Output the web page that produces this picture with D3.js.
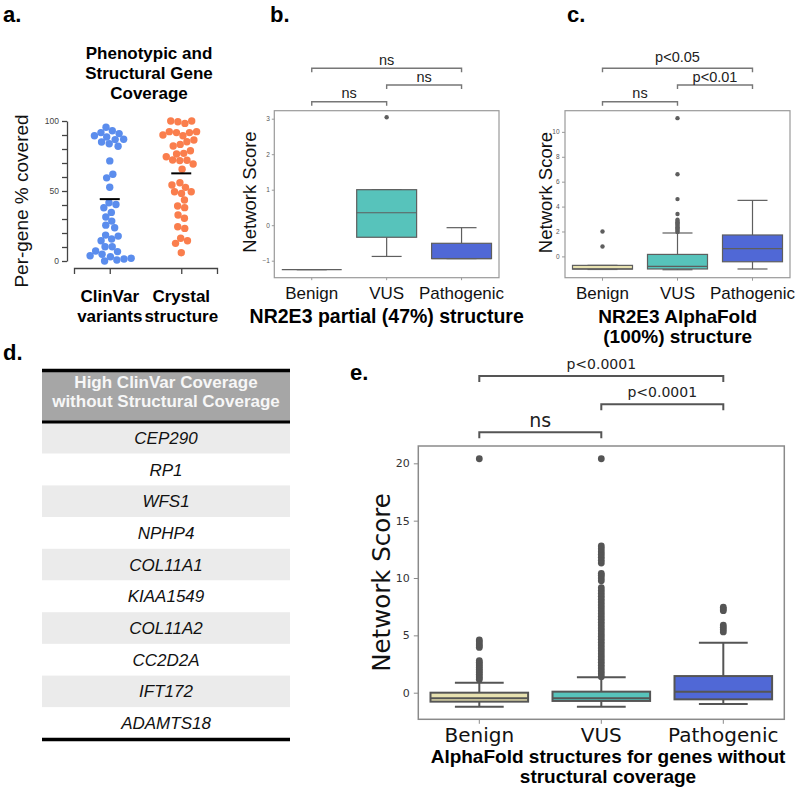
<!DOCTYPE html>
<html><head><meta charset="utf-8">
<script src="https://cdn.jsdelivr.net/npm/d3@7"></script>
<style>body{margin:0;background:#fff}svg{display:block}</style>
</head><body>
<svg id="chart" width="800" height="791"></svg>
<script>
// ---------------- DATA ----------------
const coverageCategories = ["ClinVar variants", "Crystal structure"];
const clinvarCoverage = [95.5, 93, 91.7, 91, 89.5, 88.6, 87, 86.7, 85, 83.8, 82, 71.5, 62, 59.4, 52.7,
  41.6, 40.4, 38, 34.7, 31.4, 28.5, 25.6, 23.8, 18.5, 17.8, 15.7, 14.5, 10.2, 10.2, 7.1, 6.7, 4.8, 3.8, 3, 2, 1.4, 0.7, 0];
const crystalCoverage = [100, 99.5, 100, 98.3, 92.4, 92.4, 91.7, 91.7, 90, 89.5, 86.4, 85.2, 83.3, 82.1, 78.8,
  76.9, 76.4, 74.5, 72.1, 71.7, 72, 69.3, 65.5, 55.9, 54.3, 52.6, 49.5, 49.5, 48.3, 43.6, 39.3, 38.1, 32.9,
  30.5, 24.5, 23.3, 16.2, 14.5, 12.6, 5.9];
const coverageMeans = [44.2, 62.6];
const coverageTickLabels = [0, 50, 100];

const classCategories = ["Benign", "VUS", "Pathogenic"];
const bracketPairs = [[0, 1], [1, 2], [0, 2]];

// panel b: NR2E3 partial structure
const bQ1 = [-1.25, -0.34, -0.94];
const bMedian = [-1.25, 0.35, -0.94];
const bQ3 = [-1.25, 1.0, -0.51];
const bWhiskerLow = [-1.25, -0.88, -0.94];
const bWhiskerHigh = [-1.25, 1.0, -0.07];
const bOutliers = [[], [3.04], []];
const bTicks = [-1, 0, 1, 2, 3];
const bSignif = ["ns", "ns", "ns"];

// panel c: NR2E3 AlphaFold structure
const cQ1 = [-1.02, -1.01, -0.43];
const cMedian = [-1.0, -0.8, 0.62];
const cQ3 = [-0.72, 0.16, 1.72];
const cWhiskerLow = [-1.05, -1.07, -1.01];
const cWhiskerHigh = [-0.72, 1.88, 4.5];
const cOutliers = [[0.8, 2.0],
  [1.95, 2.05, 2.15, 2.25, 2.35, 2.45, 2.55, 2.65, 2.75, 2.85, 2.95, 3.4, 4.6, 6.6, 11.1], []];
const cTicks = [0, 2, 4, 6, 8, 10];
const cSignif = ["ns", "p<0.01", "p<0.05"];

// panel d: table
const tableHeader = ["High ClinVar Coverage", "without Structural Coverage"];
const tableGenes = ["CEP290", "RP1", "WFS1", "NPHP4", "COL11A1", "KIAA1549", "COL11A2", "CC2D2A", "IFT172", "ADAMTS18"];

// panel e: AlphaFold structures for genes without structural coverage
const eQ1 = [-0.78, -0.72, -0.58];
const eMedian = [-0.49, -0.49, 0.09];
const eQ3 = [0.0, 0.09, 1.45];
const eWhiskerLow = [-1.22, -1.22, -0.99];
const eWhiskerHigh = [0.87, 1.34, 4.36];
const eOutliers = [
  [1.15, 1.3, 1.45, 1.6, 1.75, 1.9, 2.05, 2.2, 2.35, 2.5, 2.65, 2.8, 3.95, 4.1, 4.25, 4.45, 4.6, 20.4],
  [1.4, 1.65, 1.9, 2.15, 2.4, 2.65, 2.9, 3.15, 3.4, 3.65, 3.9, 4.15, 4.4, 4.65, 4.9, 5.15, 5.4, 5.65, 5.9,
   6.15, 6.4, 6.65, 6.9, 7.15, 7.4, 7.65, 7.9, 8.15, 8.4, 8.65, 8.9, 9.15, 9.75, 10.0, 10.25, 10.4,
   11.3, 11.55, 11.8, 12.05, 12.3, 12.55, 12.8, 20.4],
  [5.3, 5.5, 5.7, 5.9, 7.15, 7.3, 7.45]];
const eTicks = [0, 5, 10, 15, 20];
const eSignif = ["ns", "p<0.0001", "p<0.0001"];

// ---------------- DRAWING ----------------
const svg = d3.select("#chart");
const SANS = "'Liberation Sans', Arial, Helvetica, sans-serif";
const DEJAVU = "'DejaVu Sans', Verdana, sans-serif";
const boxColors = ["#e8e2b0", "#57c3bb", "#5068d6"];

function txt(s, x, y, o = {}) {
  return svg.append("text").attr("x", x).attr("y", y).text(s)
    .attr("font-family", o.font || SANS).attr("font-size", o.size || 14)
    .attr("font-weight", o.weight || "normal").attr("font-style", o.style || "normal")
    .attr("text-anchor", o.anchor || "middle").attr("fill", o.fill || "#111");
}
function vtxt(s, x, y, o = {}) {
  return txt(s, 0, 0, o).attr("transform", `translate(${x},${y}) rotate(-90)`);
}

// panel letters
[["a.", 3, 21.5], ["b.", 270, 21.5], ["c.", 567, 21.5], ["d.", 3, 360], ["e.", 350, 380]].forEach(([s, x, y]) =>
  txt(s, x, y, {size: 22, weight: "bold", anchor: "start", fill: "#000"}));

// ---- Panel a ----
{
  const y = d3.scaleLinear().domain([0, 100]).range([261, 121]);
  const x = d3.scalePoint().domain(coverageCategories).range([74, 217]).padding(0.5);
  ["Phenotypic and", "Structural Gene", "Coverage"].forEach((s, i) =>
    txt(s, 149, 59 + i * 20, {size: 17, weight: "bold", fill: "#000"}));
  const ya = svg.append("g").attr("transform", "translate(67,0)")
    .call(d3.axisLeft(y).tickValues(d3.range(0, 101, 10)).tickSize(5).tickPadding(3).tickSizeOuter(0)
      .tickFormat(d => coverageTickLabels.includes(d) ? d : ""));
  ya.selectAll("path,line").attr("stroke", "#444").attr("stroke-width", 1.3);
  ya.selectAll("text").attr("font-family", SANS).attr("font-size", 8.5).attr("fill", "#444");
  const xa = svg.append("g").attr("transform", "translate(0,268)")
    .call(d3.axisBottom(x).tickSize(6).tickSizeOuter(6).tickFormat(""));
  xa.selectAll("path,line").attr("stroke", "#444").attr("stroke-width", 1.3);
  coverageCategories.forEach(c => {
    const [l1, l2] = c.split(" ");
    txt(l1, x(c), 301.5, {size: 17, weight: "bold", fill: "#000"});
    txt(l2, x(c), 321.5, {size: 17, weight: "bold", fill: "#000"});
  });
  vtxt("Per-gene % covered", 28, 201, {size: 19, fill: "#111"});

  const series = [clinvarCoverage, crystalCoverage];
  const colors = ["#5b8ded", "#fa7e4d"];
  series.forEach((vals, si) => {
    const cx = x(coverageCategories[si]);
    const nodes = vals.map(v => ({v, fy: y(v), x: cx}));
    const sim = d3.forceSimulation(nodes)
      .force("x", d3.forceX(cx).strength(0.03))
      .force("c", d3.forceCollide(3.6))
      .stop();
    for (let i = 0; i < 300; i++) sim.tick();
    svg.append("g").selectAll("circle").data(nodes).join("circle")
      .attr("cx", d => d.x).attr("cy", d => d.fy).attr("r", 3.7).attr("fill", colors[si]);
    svg.append("line").attr("x1", cx - 10).attr("x2", cx + 10)
      .attr("y1", y(coverageMeans[si])).attr("y2", y(coverageMeans[si]))
      .attr("stroke", "#000").attr("stroke-width", 2);
  });
}

// ---- Box panels ----
function boxPanel(p) {
  const g = svg.append("g");
  const x = d3.scaleBand().domain(classCategories).range([p.left, p.right]).paddingInner(0.2).paddingOuter(0.1);
  const y = d3.scaleLinear().domain(p.domain).range([p.bottom, p.top]);
  const bw = x.bandwidth();
  const cx = c => x(c) + bw / 2;

  const ya = g.append("g").attr("transform", `translate(${p.left},0)`)
    .call(d3.axisLeft(y).tickValues(p.ticks).tickFormat(d3.format("d"))
      .tickSize(p.tickLen).tickPadding(p.yPad).tickSizeOuter(0));
  ya.select(".domain").remove();
  ya.selectAll("line").attr("stroke", p.frame);
  ya.selectAll("text").attr("font-family", p.tickFont).attr("font-size", p.yTickSize).attr("fill", p.tickFill);

  const xa = g.append("g").attr("transform", `translate(0,${p.bottom})`)
    .call(d3.axisBottom(x).tickSize(p.tickLen).tickPadding(p.xPad).tickSizeOuter(0));
  xa.select(".domain").remove();
  xa.selectAll("line").attr("stroke", p.frame);
  xa.selectAll("text").attr("font-family", p.tickFont).attr("font-size", p.xTickSize).attr("fill", "#111");

  const rows = classCategories.map((c, i) => ({c, i, q1: p.q1[i], med: p.med[i], q3: p.q3[i],
    lo: p.lo[i], hi: p.hi[i], out: p.out[i]}));
  const lc = p.line, lw = p.lw;
  const bg = g.selectAll("g.box").data(rows).join("g").attr("class", "box");
  bg.append("line").attr("x1", d => cx(d.c)).attr("x2", d => cx(d.c))
    .attr("y1", d => y(d.q3)).attr("y2", d => y(d.hi)).attr("stroke", lc).attr("stroke-width", lw);
  bg.append("line").attr("x1", d => cx(d.c)).attr("x2", d => cx(d.c))
    .attr("y1", d => y(d.q1)).attr("y2", d => y(d.lo)).attr("stroke", lc).attr("stroke-width", lw);
  bg.append("line").attr("x1", d => cx(d.c) - bw / 4).attr("x2", d => cx(d.c) + bw / 4)
    .attr("y1", d => y(d.hi)).attr("y2", d => y(d.hi)).attr("stroke", lc).attr("stroke-width", lw);
  bg.append("line").attr("x1", d => cx(d.c) - bw / 4).attr("x2", d => cx(d.c) + bw / 4)
    .attr("y1", d => y(d.lo)).attr("y2", d => y(d.lo)).attr("stroke", lc).attr("stroke-width", lw);
  bg.append("rect").attr("x", d => x(d.c)).attr("width", bw)
    .attr("y", d => y(d.q3)).attr("height", d => y(d.q1) - y(d.q3))
    .attr("fill", d => boxColors[d.i]).attr("stroke", lc).attr("stroke-width", lw);
  bg.append("line").attr("x1", d => x(d.c)).attr("x2", d => x(d.c) + bw)
    .attr("y1", d => y(d.med)).attr("y2", d => y(d.med)).attr("stroke", lc).attr("stroke-width", lw);
  bg.selectAll("circle").data(d => d.out.map(v => ({v, c: d.c}))).join("circle")
    .attr("cx", d => cx(d.c)).attr("cy", d => y(d.v)).attr("r", p.r).attr("fill", lc);

  g.append("rect").attr("x", p.left).attr("y", p.top).attr("width", p.right - p.left)
    .attr("height", p.bottom - p.top).attr("fill", "none").attr("stroke", p.frame).attr("stroke-width", p.fw);

  bracketPairs.forEach(([a, b], k) => {
    const x1 = cx(classCategories[a]), x2 = cx(classCategories[b]), yy = p.by[k];
    g.append("path").attr("d", `M${x1},${yy + p.leg}V${yy}H${x2}V${yy + p.leg}`)
      .attr("fill", "none").attr("stroke", p.bColor).attr("stroke-width", p.bw);
    g.append("text").attr("x", (x1 + x2) / 2).attr("y", yy - p.bGap[k]).text(p.signif[k])
      .attr("text-anchor", "middle").attr("font-family", p.tickFont)
      .attr("font-size", p.bSize[k]).attr("fill", "#222");
  });

  vtxt("Network Score", p.yLabel[0], p.yLabel[1], {size: p.yLabel[2], font: p.tickFont, fill: "#111"});
  p.title.forEach((s, i) => txt(s, p.titleX, p.titleY + i * p.titleStep, {size: p.titleSize, weight: "bold", fill: "#000"}));
}

boxPanel({left: 274.3, right: 499, top: 110.7, bottom: 277.7, domain: [-1.479, 3.225], ticks: bTicks,
  q1: bQ1, med: bMedian, q3: bQ3, lo: bWhiskerLow, hi: bWhiskerHigh, out: bOutliers, signif: bSignif,
  tickLen: 2.5, yPad: 2, xPad: 6.5, tickFont: SANS, yTickSize: 6.5, xTickSize: 17, tickFill: "#555",
  frame: "#9a9a9a", fw: 1.2, line: "#5e5e5e", lw: 1.2, r: 2.2,
  by: [101.7, 85, 68.3], leg: 4, bGap: [3.4, 3.4, 3.4], bSize: [14.5, 14.5, 14.5], bColor: "#777", bw: 1.4,
  yLabel: [256, 192, 18.5], title: ["NR2E3 partial (47%) structure"], titleX: 386.7, titleY: 323, titleStep: 20, titleSize: 19.5});

boxPanel({left: 565, right: 790, top: 110.7, bottom: 277.7, domain: [-1.71, 11.70], ticks: cTicks,
  q1: cQ1, med: cMedian, q3: cQ3, lo: cWhiskerLow, hi: cWhiskerHigh, out: cOutliers, signif: cSignif,
  tickLen: 3, yPad: 2.5, xPad: 6, tickFont: SANS, yTickSize: 6.5, xTickSize: 17, tickFill: "#555",
  frame: "#9a9a9a", fw: 1.2, line: "#5e5e5e", lw: 1.2, r: 2.2,
  by: [101.7, 85, 68.3], leg: 4, bGap: [3.4, 3.4, 6.5], bSize: [14.5, 14.5, 14.5], bColor: "#777", bw: 1.4,
  yLabel: [551.5, 192.5, 18.5], title: ["NR2E3 AlphaFold", "(100%) structure"], titleX: 677.7, titleY: 323, titleStep: 20, titleSize: 19});

boxPanel({left: 418.3, right: 784.3, top: 446, bottom: 719.3, domain: [-2.32, 21.51], ticks: eTicks,
  q1: eQ1, med: eMedian, q3: eQ3, lo: eWhiskerLow, hi: eWhiskerHigh, out: eOutliers, signif: eSignif,
  tickLen: 4.5, yPad: 4, xPad: 4, tickFont: DEJAVU, yTickSize: 11, xTickSize: 20, tickFill: "#333",
  frame: "#8a8a8a", fw: 1.5, line: "#555", lw: 2, r: 3.4,
  by: [432.3, 404.3, 376], leg: 6, bGap: [5.6, 7.6, 7], bSize: [19, 14, 14], bColor: "#555", bw: 2,
  yLabel: [390, 582.5, 24.5], title: ["AlphaFold structures for genes without", "structural coverage"],
  titleX: 608, titleY: 763.3, titleStep: 20, titleSize: 19});

// ---- Panel d: table ----
{
  const left = 42, right = 290, top = 369, headBottom = 422;
  const rowY = d3.scaleBand().domain(tableGenes).range([headBottom, 739]);
  svg.append("rect").attr("x", left).attr("y", top).attr("width", right - left).attr("height", headBottom - top)
    .attr("fill", "#a6a6a6");
  svg.append("g").selectAll("rect").data(tableGenes).join("rect")
    .attr("x", left).attr("width", right - left).attr("y", d => rowY(d)).attr("height", rowY.bandwidth())
    .attr("fill", (d, i) => i % 2 === 0 ? "#ebebeb" : "#ffffff");
  svg.append("g").selectAll("text").data(tableGenes).join("text")
    .attr("x", (left + right) / 2).attr("y", d => rowY(d) + rowY.bandwidth() / 2 + 6)
    .attr("text-anchor", "middle").attr("font-family", SANS).attr("font-size", 17)
    .attr("font-style", "italic").attr("fill", "#111").text(d => d);
  tableHeader.forEach((s, i) => txt(s, (left + right) / 2, 388 + i * 18.5, {size: 17, weight: "bold", fill: "#f7f7f7"}));
  [[top + 1.5, 3.5], [headBottom, 3], [739.5, 3.5]].forEach(([yy, w]) =>
    svg.append("line").attr("x1", left).attr("x2", right).attr("y1", yy).attr("y2", yy)
      .attr("stroke", "#000").attr("stroke-width", w));
}
</script>
</body></html>
